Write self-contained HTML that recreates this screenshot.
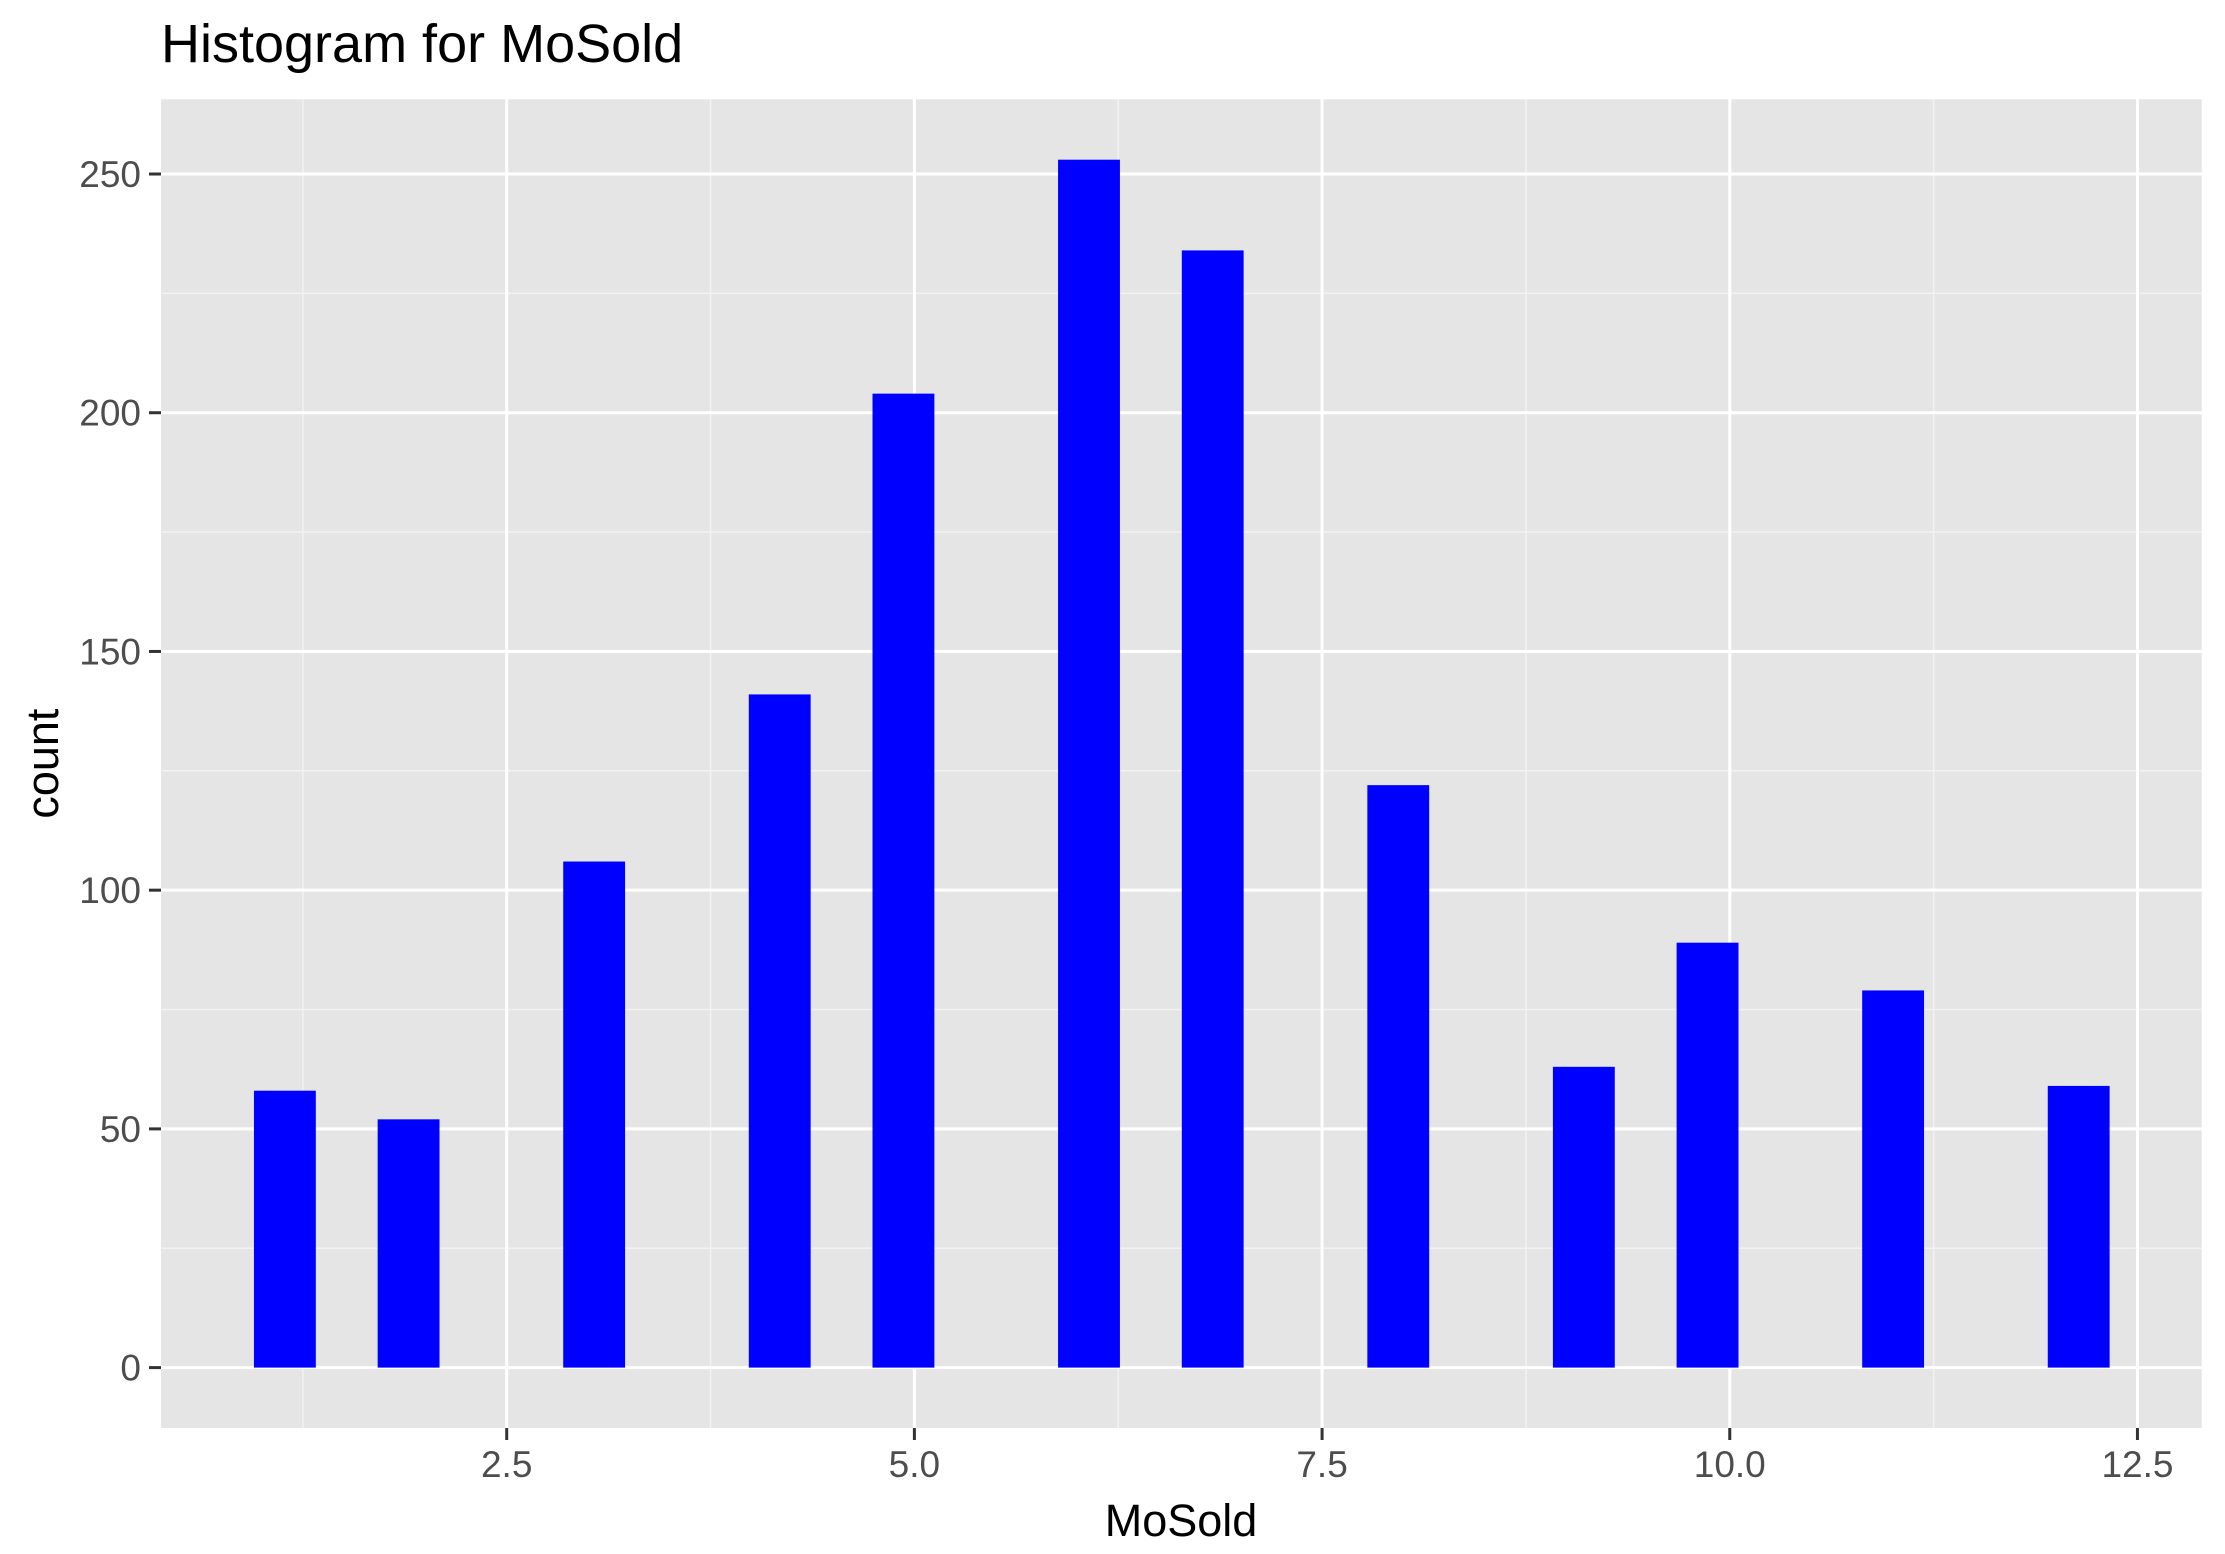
<!DOCTYPE html>
<html><head><meta charset="utf-8"><style>
html,body{margin:0;padding:0;background:#fff;}
svg{display:block;font-family:"Liberation Sans",Arial,sans-serif;}
</style></head><body>
<svg id="chart" width="2225" height="1554" viewBox="0 0 2225 1554">
<text x="161" y="62" font-size="54" fill="#000">Histogram for MoSold</text>
<rect x="161" y="99.3" width="2040.7" height="1328.7" fill="#e5e5e5"/>
<g id="grid"></g>
<g id="bars"></g>
<g id="axes"></g>
<text x="1181" y="1536" font-size="45" text-anchor="middle" fill="#000">MoSold</text>
<text transform="translate(58,763.6) rotate(-90)" font-size="45" text-anchor="middle" fill="#000">count</text>
</svg>
<script>
const months = [1,2,3,4,5,6,7,8,9,10,11,12];
const counts = [58,52,106,141,204,253,234,122,63,89,79,59];
const xTicks = [2.5,5,7.5,10,12.5];
const xTickLabels = ["2.5","5.0","7.5","10.0","12.5"];
const yTicks = [0,50,100,150,200,250];
const yTickLabels = ["0","50","100","150","200","250"];

const NS="http://www.w3.org/2000/svg";
const PL=161, PR=2201.7, PT=99.3, PB=1428;
const XMIN=0.380, XMAX=12.894;
const binStart=0.95, binW=11/29, nBins=30;
const bins=new Array(nBins).fill(0);
months.forEach((m,i)=>{let k=Math.floor((m-binStart)/binW);k=Math.max(0,Math.min(nBins-1,k));bins[k]+=counts[i];});
const ymaxData=Math.max(...bins);
const YMIN=-ymaxData*0.05, YMAX=ymaxData*1.05;
const sx=v=>PL+(v-XMIN)/(XMAX-XMIN)*(PR-PL);
const sy=v=>PB-(v-YMIN)/(YMAX-YMIN)*(PB-PT);
function mk(tag,attrs,parent){const e=document.createElementNS(NS,tag);for(const k in attrs)e.setAttribute(k,attrs[k]);parent.appendChild(e);return e;}
const grid=document.getElementById('grid'),barsG=document.getElementById('bars'),axes=document.getElementById('axes');
for(let i=0;i<xTicks.length;i++){const v=xTicks[i]-(xTicks[1]-xTicks[0])/2;if(v>XMIN){const l=mk('line',{x1:sx(v),x2:sx(v),y1:PT,y2:PB,stroke:'#f2f2f2','stroke-width':1.5},grid);

}}
for(let i=0;i<yTicks.length;i++){const v=yTicks[i]+(yTicks[1]-yTicks[0])/2;if(v<YMAX){const l=mk('line',{x1:PL,x2:PR,y1:sy(v),y2:sy(v),stroke:'#f2f2f2','stroke-width':1.5},grid);

}}
xTicks.forEach((v,i)=>{
const l=mk('line',{x1:sx(v),x2:sx(v),y1:PT,y2:PB,stroke:'#fff','stroke-width':3},grid);


const t=mk('line',{x1:sx(v),x2:sx(v),y1:PB,y2:PB+12,stroke:'#333','stroke-width':3},axes);


const tx=mk('text',{x:sx(v),y:PB+49,'font-size':37,'text-anchor':'middle',fill:'#4d4d4d'},axes);tx.textContent=xTickLabels[i];


});
yTicks.forEach((v,i)=>{
const l=mk('line',{x1:PL,x2:PR,y1:sy(v),y2:sy(v),stroke:'#fff','stroke-width':3},grid);


const t=mk('line',{x1:PL-12,x2:PL,y1:sy(v),y2:sy(v),stroke:'#333','stroke-width':3},axes);


const tx=mk('text',{x:PL-20,y:sy(v)+13,'font-size':37,'text-anchor':'end',fill:'#4d4d4d'},axes);tx.textContent=yTickLabels[i];


});
bins.forEach((c,k)=>{if(c<=0)return;
const x0=binStart+k*binW;
const r=mk('rect',{x:sx(x0),y:sy(c),width:sx(x0+binW)-sx(x0),height:sy(0)-sy(c),fill:'#0000ff'},barsG);


});
</script>
</body></html>
